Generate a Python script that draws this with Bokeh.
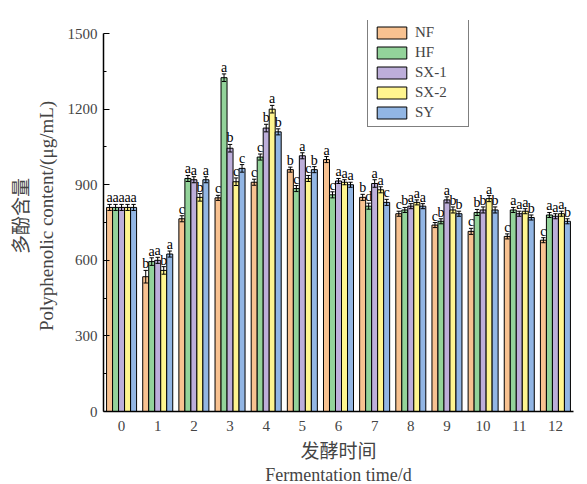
from bokeh.plotting import figure
from bokeh.models import ColumnDataSource, FixedTicker, Legend, LegendItem, Title
from bokeh.transform import dodge
from bokeh.core.properties import value
from bokeh.embed import file_html
from bokeh.resources import INLINE

days = list(range(13))
series = ["NF", "HF", "SX-1", "SX-2", "SY"]
colors = ["#F8C291", "#93D39A", "#BDAEDA", "#FFF58F", "#92B6E4"]

NF = [810, 535, 765, 848, 910, 960, 1000, 850, 785, 740, 715, 695, 680]
HF = [810, 595, 925, 1325, 1010, 885, 860, 815, 800, 755, 790, 800, 780]
SX1 = [810, 600, 920, 1045, 1125, 1015, 915, 905, 815, 840, 800, 785, 775]
SX2 = [810, 560, 850, 912, 1200, 925, 910, 880, 830, 800, 845, 795, 785]
SY = [810, 625, 920, 965, 1110, 960, 900, 830, 815, 785, 800, 770, 755]

NF_err = [12, 25, 12, 10, 12, 10, 12, 12, 10, 10, 12, 10, 10]
HF_err = [12, 15, 12, 15, 12, 12, 12, 12, 10, 10, 12, 10, 10]
SX1_err = [12, 12, 12, 15, 15, 12, 10, 15, 10, 12, 12, 10, 10]
SX2_err = [12, 15, 15, 15, 15, 12, 10, 12, 10, 12, 12, 10, 10]
SY_err = [12, 12, 12, 15, 12, 12, 10, 12, 10, 10, 12, 10, 10]

NF_sig = ["a", "b", "c", "c", "c", "b", "a", "b", "c", "c", "c", "c", "c"]
HF_sig = ["a", "a", "a", "a", "c", "c", "c", "d", "b", "b", "b", "a", "a"]
SX1_sig = ["a", "a", "a", "b", "b", "a", "a", "a", "a", "a", "b", "a", "a"]
SX2_sig = ["a", "b", "b", "c", "a", "c", "a", "a", "a", "b", "a", "a", "a"]
SY_sig = ["a", "a", "a", "c", "b", "b", "a", "c", "a", "b", "b", "b", "b"]

vals = [NF, HF, SX1, SX2, SY]
errs = [NF_err, HF_err, SX1_err, SX2_err, SY_err]
sigs = [NF_sig, HF_sig, SX1_sig, SX2_sig, SY_sig]

SERIF = "Liberation Serif"
CJK = "Noto Sans CJK SC"

p = figure(width=587, height=484, output_backend="svg", toolbar_location=None,
           x_range=(-0.5, 12.5), y_range=(0, 1552),
           min_border_left=103, min_border_right=14, min_border_top=20, min_border_bottom=73)
p.outline_line_color = None
p.xgrid.visible = False
p.ygrid.visible = False

bw = 0.166
offsets = [-2 * bw, -bw, 0, bw, 2 * bw]
cap = 0.12
items = []
for name, col, v, e, s, off in zip(series, colors, vals, errs, sigs, offsets):
    src = ColumnDataSource(dict(
        day=days, val=v,
        lo=[a - b for a, b in zip(v, e)],
        hi=[a + b for a, b in zip(v, e)],
        sig=s))
    r = p.vbar(x=dodge("day", off, range=p.x_range), top="val", width=bw, source=src,
               fill_color=col, line_color="black", line_width=1)
    items.append(LegendItem(label=name, renderers=[r]))
    p.segment(x0=dodge("day", off, range=p.x_range), x1=dodge("day", off, range=p.x_range),
              y0="lo", y1="hi", source=src, line_color="black", line_width=1)
    for yf in ["lo", "hi"]:
        p.segment(x0=dodge("day", off - cap / 2, range=p.x_range),
                  x1=dodge("day", off + cap / 2, range=p.x_range),
                  y0=yf, y1=yf, source=src, line_color="black", line_width=1)
    p.text(x=dodge("day", off, range=p.x_range), y="hi", text="sig", source=src,
           text_font=value(SERIF), text_font_size="14px", text_align="center",
           text_baseline="bottom", y_offset=1, text_color="black")

legend = Legend(items=items, location=(264, 284))
legend.border_line_color = "black"
legend.border_line_width = 1
legend.label_text_font = SERIF
legend.label_text_font_size = "15px"
legend.glyph_width = 37
legend.glyph_height = 15
legend.label_height = 15
legend.label_width = 48
legend.spacing = 3
legend.padding = 5
legend.margin = 0
legend.label_standoff = 5
legend.background_fill_alpha = 1
p.add_layout(legend)

# y axis
ya = p.yaxis[0]
ya.bounds = (0, 1500)
ya.ticker = FixedTicker(ticks=[0, 300, 600, 900, 1200, 1500],
                        minor_ticks=[150, 450, 750, 1050, 1350])
ya.major_tick_in = 6
ya.major_tick_out = 0
ya.minor_tick_in = 3
ya.minor_tick_out = 0
ya.axis_line_width = 1.5
ya.major_label_text_font = SERIF
ya.major_label_text_font_size = "15px"
ya.major_label_standoff = 6
ya.axis_label = "Polyphenolic content/(\u03bcg/mL)"
ya.axis_label_text_font = SERIF
ya.axis_label_text_font_size = "19px"
ya.axis_label_text_font_style = "normal"
ya.axis_label_standoff = 8

xa = p.xaxis[0]
xa.ticker = FixedTicker(ticks=days)
xa.major_tick_line_color = None
xa.minor_tick_line_color = None
xa.axis_line_width = 1.5
xa.major_label_text_font = SERIF
xa.major_label_text_font_size = "15px"
xa.major_label_standoff = 3

t_cn_y = Title(text="多酚含量", align="center", text_font=CJK, text_font_size="19px",
               text_font_style="normal", standoff=0)
p.add_layout(t_cn_y, "left")

t_cn_x = Title(text="发酵时间", align="center", text_font=CJK, text_font_size="19px",
               text_font_style="normal", standoff=0)
p.add_layout(t_cn_x, "below")
t_en_x = Title(text="Fermentation time/d", align="center", text_font=SERIF, text_font_size="18px",
               text_font_style="normal", standoff=0)
p.add_layout(t_en_x, "below")

open("out.html", "w").write(file_html(p, INLINE))
